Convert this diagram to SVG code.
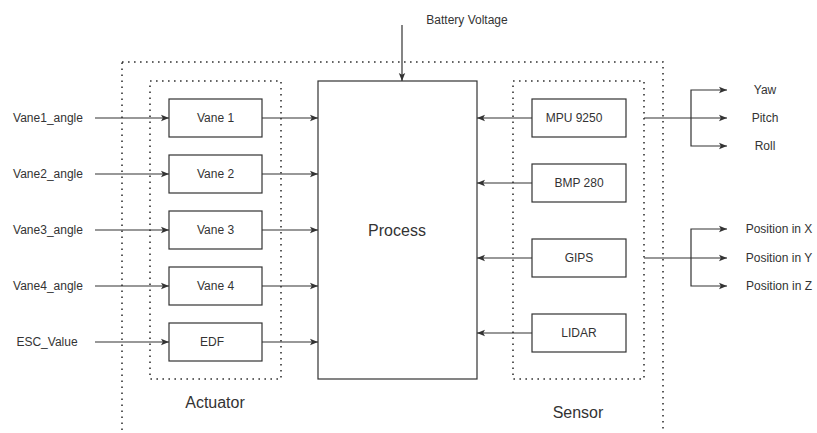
<svg xmlns="http://www.w3.org/2000/svg" width="817" height="433" viewBox="0 0 817 433">
<defs>
<marker id="arr" viewBox="0 0 8 8" refX="8" refY="4" markerWidth="8" markerHeight="8" markerUnits="userSpaceOnUse" orient="auto">
<path d="M0,0.8 L8,4 L0,7.2 L1.8,4 Z" fill="#333"/>
</marker>
<style>
.box{fill:#fff;stroke:#333;stroke-width:1.2}
.grp{fill:none;stroke:#333;stroke-width:1.6;stroke-dasharray:1.6 4.4}
.ln{fill:none;stroke:#333;stroke-width:1.2}
.ar{marker-end:url(#arr)}
text{font-family:"Liberation Sans",Arial,sans-serif;fill:#333;text-anchor:middle;dominant-baseline:central}
.s12{font-size:12px}
.s16{font-size:16px}
</style>
</defs>
<rect width="817" height="433" fill="#fff"/>

<g id="system">
<rect class="grp" x="122" y="62" width="541" height="390"/>
</g>
<g id="actuator-group">
<rect class="grp" x="150" y="81" width="131" height="298"/>
<text class="s16" x="215" y="402">Actuator</text>
</g>
<g id="sensor-group">
<rect class="grp" x="513" y="81" width="131" height="298"/>
<text class="s16" x="578" y="412">Sensor</text>
</g>

<g id="connectors">
<!-- battery -->
<line class="ln ar" x1="402" y1="25" x2="402" y2="81"/>
<!-- inputs -->
<line class="ln ar" x1="95" y1="118" x2="169" y2="118"/>
<line class="ln ar" x1="95" y1="174" x2="169" y2="174"/>
<line class="ln ar" x1="95" y1="230" x2="169" y2="230"/>
<line class="ln ar" x1="95" y1="286" x2="169" y2="286"/>
<line class="ln ar" x1="95" y1="342" x2="169" y2="342"/>
<!-- actuators to process -->
<line class="ln ar" x1="262" y1="118" x2="318" y2="118"/>
<line class="ln ar" x1="262" y1="174" x2="318" y2="174"/>
<line class="ln ar" x1="262" y1="230" x2="318" y2="230"/>
<line class="ln ar" x1="262" y1="286" x2="318" y2="286"/>
<line class="ln ar" x1="262" y1="342" x2="318" y2="342"/>
<!-- sensors to process -->
<line class="ln ar" x1="532" y1="118" x2="477" y2="118"/>
<line class="ln ar" x1="532" y1="183" x2="477" y2="183"/>
<line class="ln ar" x1="532" y1="258" x2="477" y2="258"/>
<line class="ln ar" x1="532" y1="333" x2="477" y2="333"/>
<!-- MPU outputs -->
<line class="ln" x1="644" y1="118" x2="691" y2="118"/>
<polyline class="ln ar" points="691,118 691,90 727,90"/>
<line class="ln ar" x1="691" y1="118" x2="727" y2="118"/>
<polyline class="ln ar" points="691,118 691,146 727,146"/>
<!-- GIPS outputs -->
<line class="ln" x1="644" y1="258" x2="691" y2="258"/>
<polyline class="ln ar" points="691,258 691,229 727,229"/>
<line class="ln ar" x1="691" y1="258" x2="727" y2="258"/>
<polyline class="ln ar" points="691,258 691,286 727,286"/>
</g>

<g id="process">
<rect class="box" x="318" y="81" width="159" height="298"/>
<text class="s16" x="397" y="230">Process</text>
</g>

<g id="vane1"><rect class="box" x="169" y="99" width="93" height="38"/><text class="s12" x="215.5" y="118">Vane 1</text></g>
<g id="vane2"><rect class="box" x="169" y="155" width="93" height="38"/><text class="s12" x="215.5" y="174">Vane 2</text></g>
<g id="vane3"><rect class="box" x="169" y="211" width="93" height="38"/><text class="s12" x="215.5" y="230">Vane 3</text></g>
<g id="vane4"><rect class="box" x="169" y="267" width="93" height="38"/><text class="s12" x="215.5" y="286">Vane 4</text></g>
<g id="edf"><rect class="box" x="169" y="323" width="93" height="38"/><text class="s12" x="212" y="342">EDF</text></g>

<g id="mpu"><rect class="box" x="532" y="99" width="94" height="38"/><text class="s12" x="574" y="118">MPU 9250</text></g>
<g id="bmp"><rect class="box" x="532" y="164" width="94" height="38"/><text class="s12" x="579" y="183">BMP 280</text></g>
<g id="gips"><rect class="box" x="532" y="239" width="94" height="38"/><text class="s12" x="579" y="258">GIPS</text></g>
<g id="lidar"><rect class="box" x="532" y="314" width="94" height="38"/><text class="s12" x="579" y="333">LIDAR</text></g>

<g id="labels">
<text class="s12" x="467" y="20">Battery Voltage</text>
<text class="s12" x="48" y="118">Vane1_angle</text>
<text class="s12" x="48" y="174">Vane2_angle</text>
<text class="s12" x="48" y="230">Vane3_angle</text>
<text class="s12" x="48" y="286">Vane4_angle</text>
<text class="s12" x="47" y="342">ESC_Value</text>
<text class="s12" x="765" y="90">Yaw</text>
<text class="s12" x="765" y="118">Pitch</text>
<text class="s12" x="765" y="146">Roll</text>
<text class="s12" x="779" y="229">Position in X</text>
<text class="s12" x="779" y="258">Position in Y</text>
<text class="s12" x="779" y="286">Position in Z</text>
</g>
</svg>
